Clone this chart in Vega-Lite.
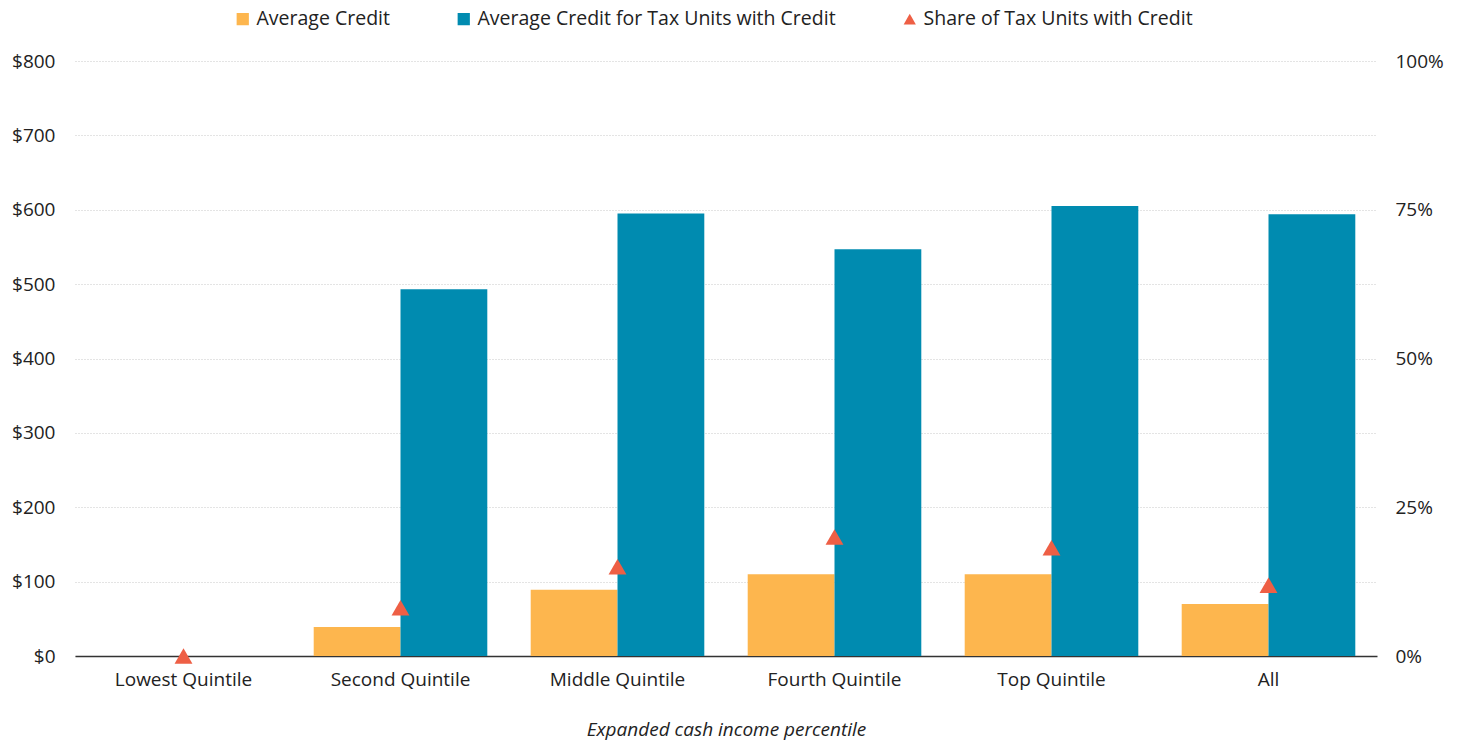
{
  "$schema": "https://vega.github.io/schema/vega-lite/v6.json",
  "width": 1302,
  "height": 595,
  "autosize": {"type": "none"},
  "padding": {"left": 75, "top": 61, "right": 83, "bottom": 86},
  "background": "white",
  "config": {
    "view": {"stroke": null},
    "font": "Open Sans",
    "axis": {"labelFont": "Open Sans", "titleFont": "Open Sans", "labelColor": "#222", "titleColor": "#222"}
  },
  "data": {
    "values": [
      {"category": "Lowest Quintile", "series": "Average Credit", "value": 0},
      {"category": "Lowest Quintile", "series": "Average Credit for Tax Units with Credit", "value": 0},
      {"category": "Lowest Quintile", "series": "Share of Tax Units with Credit", "value": 0.0},
      {"category": "Second Quintile", "series": "Average Credit", "value": 39},
      {"category": "Second Quintile", "series": "Average Credit for Tax Units with Credit", "value": 493},
      {"category": "Second Quintile", "series": "Share of Tax Units with Credit", "value": 0.081},
      {"category": "Middle Quintile", "series": "Average Credit", "value": 89},
      {"category": "Middle Quintile", "series": "Average Credit for Tax Units with Credit", "value": 595},
      {"category": "Middle Quintile", "series": "Share of Tax Units with Credit", "value": 0.150},
      {"category": "Fourth Quintile", "series": "Average Credit", "value": 110},
      {"category": "Fourth Quintile", "series": "Average Credit for Tax Units with Credit", "value": 547},
      {"category": "Fourth Quintile", "series": "Share of Tax Units with Credit", "value": 0.200},
      {"category": "Top Quintile", "series": "Average Credit", "value": 110},
      {"category": "Top Quintile", "series": "Average Credit for Tax Units with Credit", "value": 605},
      {"category": "Top Quintile", "series": "Share of Tax Units with Credit", "value": 0.182},
      {"category": "All", "series": "Average Credit", "value": 70},
      {"category": "All", "series": "Average Credit for Tax Units with Credit", "value": 594},
      {"category": "All", "series": "Share of Tax Units with Credit", "value": 0.119}
    ]
  },
  "encoding": {
    "x": {
      "field": "category",
      "type": "nominal",
      "sort": ["Lowest Quintile", "Second Quintile", "Middle Quintile", "Fourth Quintile", "Top Quintile", "All"],
      "scale": {"paddingInner": 0.2, "paddingOuter": 0.1},
      "axis": {
        "title": "Expanded cash income percentile",
        "titleFontStyle": "italic",
        "titleFontWeight": "normal",
        "titleFontSize": 19,
        "titlePadding": 31,
        "labelAngle": 0,
        "labelFontSize": 19,
        "labelPadding": 14,
        "ticks": false,
        "domain": true,
        "domainColor": "#333",
        "domainWidth": 1.5,
        "grid": false
      }
    }
  },
  "layer": [
    {
      "transform": [{"filter": "datum.series != 'Share of Tax Units with Credit'"}],
      "mark": {"type": "bar"},
      "encoding": {
        "xOffset": {
          "field": "series",
          "type": "nominal",
          "scale": {"domain": ["Average Credit", "Average Credit for Tax Units with Credit"]}
        },
        "y": {
          "field": "value",
          "type": "quantitative",
          "scale": {"domain": [0, 800]},
          "axis": {
            "title": null,
            "values": [0, 100, 200, 300, 400, 500, 600, 700, 800],
            "format": "$,.0f",
            "labelFontSize": 19,
            "labelPadding": 20,
            "ticks": false,
            "domain": false,
            "grid": true,
            "gridColor": "#c8c8c8",
            "gridDash": [1, 2],
            "gridWidth": 1
          }
        },
        "color": {
          "field": "series",
          "type": "nominal",
          "scale": {
            "domain": ["Average Credit", "Average Credit for Tax Units with Credit", "Share of Tax Units with Credit"],
            "range": ["#fdb64e", "#008bb0", "#ee5f45"]
          },
          "legend": {
            "title": null,
            "orient": "none",
            "legendX": 158,
            "legendY": -52,
            "direction": "horizontal",
            "labelFontSize": 19.5,
            "labelFont": "Open Sans",
            "labelColor": "#222",
            "labelLimit": 0,
            "symbolSize": 150,
            "symbolStrokeWidth": 0,
            "columnPadding": 64,
            "labelOffset": 4
          }
        }
      }
    },
    {
      "transform": [{"filter": "datum.series == 'Share of Tax Units with Credit'"}],
      "mark": {"type": "point", "filled": true, "size": 320, "opacity": 1},
      "encoding": {
        "y": {
          "field": "value",
          "type": "quantitative",
          "scale": {"domain": [0, 1]},
          "axis": {
            "title": null,
            "orient": "right",
            "values": [0, 0.25, 0.5, 0.75, 1],
            "format": ".0%",
            "labelFontSize": 19,
            "labelPadding": 18,
            "ticks": false,
            "domain": false,
            "grid": false
          }
        },
        "color": {
          "field": "series",
          "type": "nominal",
          "scale": {
            "domain": ["Average Credit", "Average Credit for Tax Units with Credit", "Share of Tax Units with Credit"],
            "range": ["#fdb64e", "#008bb0", "#ee5f45"]
          }
        },
        "shape": {
          "field": "series",
          "type": "nominal",
          "scale": {
            "domain": ["Average Credit", "Average Credit for Tax Units with Credit", "Share of Tax Units with Credit"],
            "range": ["square", "square", "triangle-up"]
          },
          "legend": null
        }
      }
    }
  ],
  "resolve": {"scale": {"y": "independent"}}
}
